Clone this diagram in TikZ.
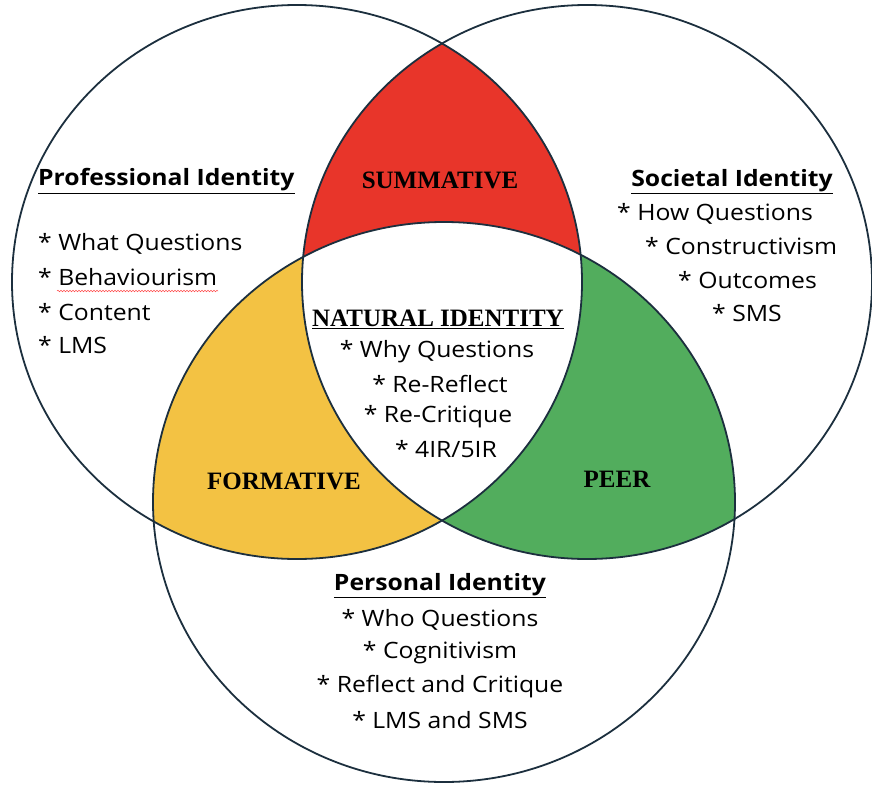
\documentclass[tikz,border=0pt]{standalone}
\usepackage{fontspec}
\setmainfont{Open Sans}[FakeStretch=1.1]
\newfontfamily\decofont{Liberation Serif}
\usetikzlibrary{decorations.pathmorphing}
\definecolor{edge}{HTML}{1C2F3E}
\definecolor{redf}{HTML}{E8352A}
\definecolor{yelf}{HTML}{F3C243}
\definecolor{grnf}{HTML}{52AD5D}
\begin{document}
\begin{tikzpicture}[x=1pt,y=-1pt,
  txt/.style={font=\fontsize{22.5}{26}\selectfont, inner sep=0pt, text=black},
  head/.style={font=\fontsize{22.5}{26}\selectfont\bfseries, inner sep=0pt, text=black},
  deco/.style={font=\fontsize{25}{28}\selectfont\decofont\bfseries, inner sep=0pt, text=black},
  ring/.style={draw=edge, line width=1.8pt}]
\useasboundingbox (0,0) rectangle (872,784);
% fills
\begin{scope}
  \clip (297,282) ellipse [x radius=285pt, y radius=277pt];
  \fill[redf] (587,282) ellipse [x radius=285pt, y radius=277pt];
  \fill[yelf] (444,502) ellipse [x radius=291pt, y radius=280pt];
\end{scope}
\begin{scope}
  \clip (587,282) ellipse [x radius=285pt, y radius=277pt];
  \fill[grnf] (444,502) ellipse [x radius=291pt, y radius=280pt];
\end{scope}
\begin{scope}
  \clip (297,282) ellipse [x radius=285pt, y radius=277pt];
  \clip (587,282) ellipse [x radius=285pt, y radius=277pt];
  \fill[white] (444,502) ellipse [x radius=291pt, y radius=280pt];
\end{scope}
% outlines
\draw[ring] (297,282) ellipse [x radius=285pt, y radius=277pt];
\draw[ring] (587,282) ellipse [x radius=285pt, y radius=277pt];
\draw[ring] (444,502) ellipse [x radius=291pt, y radius=280pt];
% professional
\node[head, anchor=west] (prof) at (38,181) {\underline{Professional Identity}};
\node[txt, anchor=west] (p1) at (38,244) {* What Questions};
\node[txt, anchor=west] (p2) at (38,277) {* Behaviourism};
\node[txt, anchor=west] (p3) at (38,312) {* Content};
\node[txt, anchor=west] (p4) at (38,345) {* LMS};
\draw[red!70, line width=0.5pt, decorate, decoration={snake, amplitude=0.8pt, segment length=3pt}] (57,291) -- (218,291);
% societal
\node[head] (soc) at (732,182) {\underline{Societal Identity}};
\node[txt, anchor=west] (s1) at (617,214) {* How Questions};
\node[txt, anchor=west] (s2) at (645,246) {* Constructivism};
\node[txt, anchor=west] (s3) at (678,280) {* Outcomes};
\node[txt, anchor=west] (s4) at (712,313) {* SMS};
% intersections
\node[deco] (sum) at (440,180) {SUMMATIVE};
\node[deco] (form) at (284,481) {FORMATIVE};
\node[deco] (peer) at (617,479) {PEER};
% natural
\node[deco] (nat) at (438,319) {\underline{NATURAL IDENTITY}};
\node[txt] (n1) at (437,352) {* Why Questions};
\node[txt] (n2) at (440,384) {* Re-Reflect};
\node[txt] (n3) at (438,417) {* Re-Critique};
\node[txt] (n4) at (446,449) {* 4IR/5IR};
% personal
\node[head] (pers) at (440,586) {\underline{Personal Identity}};
\node[txt] (q1) at (440,620) {* Who Questions};
\node[txt] (q2) at (440,653) {* Cognitivism};
\node[txt] (q3) at (440,687) {* Reflect and Critique};
\node[txt] (q4) at (440,720) {* LMS and SMS};
\end{tikzpicture}
\end{document}
